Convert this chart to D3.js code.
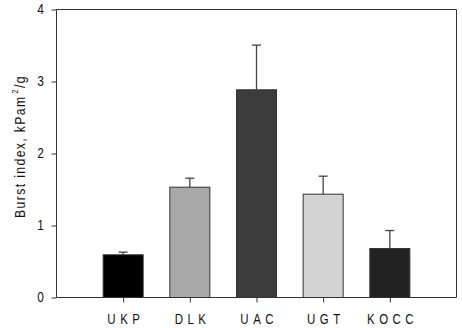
<!DOCTYPE html>
<html><head><meta charset="utf-8">
<script src="https://cdn.jsdelivr.net/npm/d3@7"></script>
<style>body{margin:0;background:#fff}svg{display:block}</style>
</head><body>
<svg id="c" width="462" height="328"></svg>
<script>
const categories = ["UKP","DLK","UAC","UGT","KOCC"];
const values = [0.593, 1.532, 2.885, 1.435, 0.68];
const errors = [0.037, 0.125, 0.62, 0.25, 0.25];
const colors = ["#000000","#a8a8a8","#3c3c3c","#d3d3d3","#222222"];
const yTicks = [0,1,2,3,4];

const svg = d3.select("#c");
const L=56.5, R=456.5, T=9.5, B=297.5;
const x = d3.scaleLinear().domain([0,6]).range([L,R]);
const y = d3.scaleLinear().domain([0,4]).range([B,T]);
const bw = (x(1)-x(0))*0.6;
const font = "'Liberation Sans', Arial, sans-serif";

// frame top/right
svg.append("path").attr("d",`M${L},${T}H${R}V${B}`).attr("fill","none").attr("stroke","#333").attr("stroke-width",1);

// bars
categories.forEach((c,i)=>{
  const cx = x(i+1);
  svg.append("line").attr("x1",cx).attr("x2",cx).attr("y1",y(values[i])).attr("y2",y(values[i]+errors[i])).attr("stroke","#444").attr("stroke-width",1.3);
  svg.append("line").attr("x1",cx-4.5).attr("x2",cx+4.5).attr("y1",y(values[i]+errors[i])).attr("y2",y(values[i]+errors[i])).attr("stroke","#444").attr("stroke-width",1.3);
  svg.append("rect").attr("x",cx-bw/2).attr("y",y(values[i])).attr("width",bw).attr("height",y(0)-y(values[i]))
    .attr("fill",colors[i]).attr("stroke","#333").attr("stroke-width",1);
});

// y axis
const ya = svg.append("g").attr("transform",`translate(${L},0)`).call(d3.axisLeft(y).tickValues(yTicks).tickFormat(d3.format("d")).tickSize(5).tickPadding(10));
ya.select(".domain").attr("stroke","#333").attr("d",`M0,${T}V${B}`);
ya.selectAll(".tick line").attr("stroke","#333");
ya.selectAll("text").attr("font-family",font).attr("font-size",14).attr("fill","#111").attr("transform","scale(0.85,1)");

// x axis
const xa = svg.append("g").attr("transform",`translate(0,${B})`).call(d3.axisBottom(x).tickValues([1,2,3,4,5]).tickFormat(d=>categories[d-1]).tickSize(5).tickPadding(12));
xa.select(".domain").attr("stroke","#333").attr("d",`M${L},0H${R}`);
xa.selectAll(".tick line").attr("stroke","#333");
xa.selectAll("text").attr("font-family",font).attr("font-size",14).attr("letter-spacing","5.5px").attr("fill","#111")
  .attr("dx","2.7px").attr("transform","scale(0.82,1)");

// y label
const yl = svg.append("text").attr("transform",`translate(25,${(T+B)/2-7}) rotate(-90) scale(0.87,1)`).attr("text-anchor","middle")
  .attr("font-family",font).attr("font-size",14).attr("letter-spacing","1.6px").attr("fill","#111");
yl.append("tspan").text("Burst index, kPam");
yl.append("tspan").attr("font-size",9).attr("dy","-7").attr("dx","2").text("2");
yl.append("tspan").attr("dy","7").text("/g");
</script>
</body></html>
